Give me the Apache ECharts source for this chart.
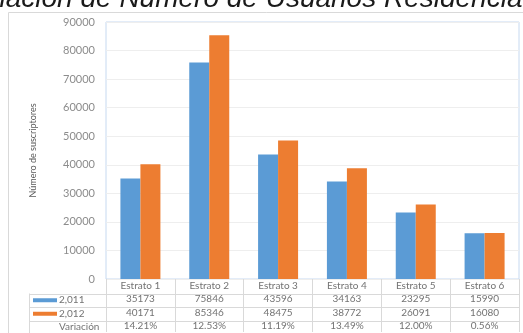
<!DOCTYPE html>
<html>
<head>
<meta charset="utf-8">
<script src="https://cdn.jsdelivr.net/npm/echarts@6/dist/echarts.min.js"></script>
<style>
html,body{margin:0;padding:0;background:#fff;}
#c{width:523px;height:333px;}
</style>
</head>
<body>
<div id="c"></div>
<script>
// ---- data ----
const categories = ['Estrato 1','Estrato 2','Estrato 3','Estrato 4','Estrato 5','Estrato 6'];
const seriesNames = ['2,011','2,012'];
const values2011 = [35173, 75846, 43596, 34163, 23295, 15990];
const values2012 = [40171, 85346, 48475, 38772, 26091, 16080];
const variacion = ['14.21%','12.53%','11.19%','13.49%','12.00%','0.56%'];
const variacionLabel = 'Variación';
const titleText = 'Variación de Número de Usuarios Residenciales';
const yAxisName = 'Número de suscriptores';

const colors = ['#5b9bd5', '#ed7d31'];
const chart = echarts.init(document.getElementById('c'), null, {renderer:'canvas'});

const tableFont = 'Lato, "Liberation Sans", sans-serif';
const rowH = 13.5;

const option = {
  animation: false,
  grid: {left: 106, top: 22, right: 4, bottom: 53, show: true, borderColor: '#c6d9f0', borderWidth: 1, backgroundColor: 'transparent'},
  xAxis: {
    type: 'category',
    data: categories,
    axisLine: {show: false},
    axisTick: {show: true, length: 53, lineStyle: {color: '#d9d9d9'}},
    axisLabel: {
      margin: 0,
      interval: 0,
      fontFamily: tableFont,
      fontSize: 10,
      color: '#737373',
      lineHeight: rowH,
      verticalAlign: 'top',
      formatter: function (v, i) {
        return v + '\n' + values2011[i] + '\n' + values2012[i] + '\n' + variacion[i];
      }
    }
  },
  yAxis: {
    type: 'value',
    min: 0, max: 90000, interval: 10000,
    name: yAxisName,
    nameLocation: 'middle',
    nameGap: 68,
    nameTextStyle: {fontFamily: tableFont, fontSize: 9, color: '#595959'},
    axisLine: {show: false},
    axisTick: {show: false},
    axisLabel: {margin: 11, fontFamily: tableFont, fontSize: 11, color: '#8c8c8c', formatter: function (v) { return String(v); }},
    splitLine: {lineStyle: {color: '#eeeeee'}}
  },
  series: [
    {name: seriesNames[0], type: 'bar', data: values2011, barWidth: 20, barGap: '0%', itemStyle: {color: colors[0]}},
    {name: seriesNames[1], type: 'bar', data: values2012, barWidth: 20, barGap: '0%', itemStyle: {color: colors[1]}}
  ]
};
chart.setOption(option);

// table frame and row labels
const tblTop = 280, tblLeft = 29, tblRight = 519;
const graphics = [
  {type: 'rect', shape: {x: 8.5, y: 12.5, width: 540, height: 340}, style: {fill: 'none', stroke: '#d9d9d9', lineWidth: 1}, z: 0},
  {type: 'text', x: -43, y: -1, style: {text: titleText, fontFamily: '"Liberation Sans", Arial, sans-serif', fontStyle: 'italic', fontSize: 28, fill: '#1a1a1a', verticalAlign: 'middle', align: 'left'}, z: 10}
];
for (let r = 1; r <= 3; r++) {
  const y = Math.round(tblTop + rowH * r) + 0.5;
  graphics.push({type: 'line', shape: {x1: tblLeft, y1: y, x2: tblRight, y2: y}, style: {stroke: '#d9d9d9', lineWidth: 1}});
}
graphics.push({type: 'line', shape: {x1: tblLeft + 0.5, y1: tblTop + rowH, x2: tblLeft + 0.5, y2: 333}, style: {stroke: '#d9d9d9', lineWidth: 1}});
const rowLabels = [seriesNames[0], seriesNames[1], variacionLabel];
rowLabels.forEach(function (lab, k) {
  const cy = tblTop + rowH * (k + 1) + rowH / 2;
  if (k < 2) {
    graphics.push({type: 'rect', shape: {x: 33, y: cy - 2, width: 24, height: 4}, style: {fill: colors[k]}});
  }
  graphics.push({type: 'text', x: 59, y: cy, style: {text: lab, fontFamily: tableFont, fontSize: 10, fill: '#737373', verticalAlign: 'middle', align: 'left'}});
});
chart.setOption({graphic: graphics});
</script>
</body>
</html>
